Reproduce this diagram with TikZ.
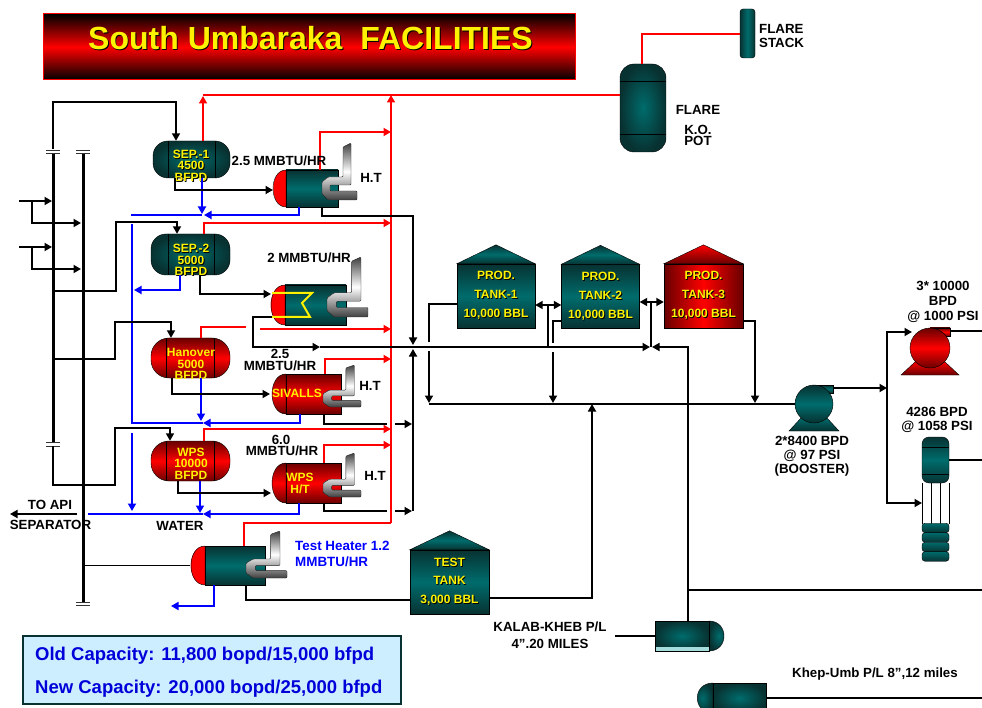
\documentclass[tikz,border=0pt]{standalone}
\usepackage{fontspec}
\setmainfont{Liberation Sans}
\usetikzlibrary{arrows.meta, calc}
\definecolor{tealmid}{RGB}{0,108,108}
\definecolor{tealdark}{RGB}{8,50,50}
\definecolor{reddark}{RGB}{105,0,0}
\definecolor{legendfill}{RGB}{204,238,255}
\definecolor{palestrip}{RGB}{165,220,220}
\newcommand{\shtxt}[1]{\leavevmode\rlap{\kern0.9pt\raisebox{-0.9pt}{\color{black}#1}}#1}
% heater: name, cap x, body left, body right, top, bottom, body style, cap style
\newcommand{\heater}[8]{
    \node[#7, minimum width={#4-#3}, minimum height={#6-#5}] (#1) at ({(#3+#4)/2},{(#5+#6)/2}) {};
    \draw[#8] (#3,#5) .. controls ({#3-1.33*(#3-#2)},#5) and ({#3-1.33*(#3-#2)},#6) .. (#3,#6) -- cycle;
}
% burner and stack: left, top, width, height
\newcommand{\burner}[4]{
    \begin{scope}[shift={(#1,#2)},xscale=#3/35,yscale=#4/57]
        \draw[stackgrey] (21,4) -- (29,0) -- (29,42) -- (8,42) -- (8,48) -- (35,48) -- (35,57) -- (6,57) -- (0,51) -- (0,39) -- (6,34) -- (21,34) -- cycle;
    \end{scope}
}
% pump: name, x, y, radius, base half width, colour style
\newcommand{\pump}[6]{
    \draw[#6] (#2,#3) ++(-#5,27) -- ++({2*#5},0) -- (#2,#3) -- cycle;
    \draw[#6] (#2,{#3-#4}) -- ({#2+#4},{#3-#4}) -- ({#2+#4},{#3-#4+8}) -- (#2,{#3-#4+8}) -- cycle;
    \node[circle, #6, minimum size={2*#4}] (#1) at (#2,#3) {};
    \coordinate (#1out) at ({#2+#4},{#3-#4+3});
}
\newcommand{\tankroof}[2]{
    \draw[#2] (#1.north west) -- ($(#1.north)+(0,-19)$) -- (#1.north east) -- cycle;
}
\begin{document}
\begin{tikzpicture}[
    x=1pt, y=-1pt,
    tealshade/.style={draw=black, thin, top color=tealdark, bottom color=tealdark, middle color=tealmid, inner sep=0pt},
    redshade/.style={draw=black, thin, top color=reddark, bottom color=reddark, middle color=red, inner sep=0pt},
    redcap/.style={draw=black, thin, fill=red},
    sepvessel/.style={draw=black, thin, inner color=tealmid, outer color=tealdark, rectangle, rounded corners=15pt, inner sep=0pt},
    redvessel/.style={redshade, rectangle, rounded corners=18pt},
    discstyle/.style={draw=black, thin, top color=tealmid, bottom color=tealdark, rectangle, rounded corners=3pt, inner sep=0pt},
    hbody/.style={rectangle},
    stackgrey/.style={draw=black!85, thin, rounded corners=1pt, top color=black!75, bottom color=black!75, middle color=white},
    prodtank/.style={tealshade, rectangle, minimum width=78, minimum height=64, align=center, text=yellow, font={\bfseries\fontsize{12}{19}\selectfont}},
    hottank/.style={draw=black, thin, left color=reddark, right color=reddark, middle color=red, rectangle, minimum width=79, minimum height=64, align=center, text=yellow, inner sep=0pt, font={\bfseries\fontsize{12}{19}\selectfont}},
    vtext/.style={text=yellow, align=center, inner sep=0pt, font={\bfseries\fontsize{12}{11.5}\selectfont}},
    tag/.style={text=black, align=center, inner sep=0pt, font={\bfseries\fontsize{13.3}{14}\selectfont}},
    bluetag/.style={tag, text=blue, align=left},
    legendtxt/.style={text=blue!85!black, inner sep=0pt, anchor=west, font={\bfseries\fontsize{18.5}{20}\selectfont}},
    pipe/.style={line width=1.7pt},
    bus/.style={line width=3pt},
    arrow/.style={-{Triangle[length=7.5pt,width=8pt]}, line width=1.7pt},
    twoway/.style={{Triangle[length=7.5pt,width=8pt]}-{Triangle[length=7.5pt,width=8pt]}, line width=1.7pt},
    flange/.style={line width=0.8pt, black!80}
]
    \useasboundingbox (0,0) rectangle (982,708);
    \clip (0,0) rectangle (982,708);

    % title and legend
    \node[draw=red, line width=1pt, top color=black, bottom color=black, middle color=red, minimum width=532, minimum height=66, inner sep=0pt] (titlebar) at (309,47) {};
    \node[text=yellow, inner sep=0pt, font={\bfseries\fontsize{32}{34}\selectfont}] (titletxt) at (310.5,39) {\shtxt{South Umbaraka\ \ FACILITIES}};
    \node[draw=tealdark, line width=1.5pt, fill=legendfill, minimum width=378, minimum height=68, inner sep=0pt] (legendbox) at (212,670) {};
    \node[legendtxt] (oldcap) at (35,656) {Old Capacity: 11,800 bopd/15,000 bfpd};
    \node[legendtxt] (newcap) at (35,689) {New Capacity: 20,000 bopd/25,000 bfpd};

    % separators
    \node[sepvessel, minimum width=77, minimum height=37] (sep1) at (191.5,159.5) {};
    \node[sepvessel, minimum width=79, minimum height=41] (sep2) at (190.5,254.5) {};
    \node[redvessel, minimum width=79, minimum height=40] (hano) at (190.5,358) {};
    \node[redvessel, minimum width=79, minimum height=40] (wpsv) at (190.5,461) {};
    \foreach \nm/\xa/\xb in {sep1/168/215, sep2/168/214, hano/166/214, wpsv/166/214} {
        \draw[thin] (\xa,0 |- \nm.north) -- (\xa,0 |- \nm.south);
        \draw[thin] (\xb,0 |- \nm.north) -- (\xb,0 |- \nm.south);
    }
    \node[vtext] (sep1txt) at (191,166) {\shtxt{SEP.-1}\\\shtxt{4500}\\\shtxt{BFPD}};
    \node[vtext] (sep2txt) at (191,260.5) {\shtxt{SEP.-2}\\\shtxt{5000}\\\shtxt{BFPD}};
    \node[vtext] (hanotxt) at (191,364) {Hanover\\5000\\BFPD};
    \node[vtext] (wpsvtxt) at (191,463.5) {WPS\\10000\\BFPD};

    % heaters
    \heater{ht1}{273}{286}{338}{170}{207}{tealshade, hbody}{redcap}
    \burner{322}{143}{35}{57}
    \heater{ht2}{271}{285}{346}{285}{325}{tealshade, hbody}{redcap}
    \burner{327}{257}{41}{60}
    \coordinate (ht2out) at (272,317);
    \draw[yellow, line width=2pt] (272,293) -- (312,293) -- (302,303) -- (310,317) -- (ht2out);
    \heater{ht3}{272}{286}{341}{374}{414}{redshade, hbody}{redshade}
    \burner{323}{365}{38}{42}
    \heater{ht4}{272}{286}{341}{463}{503}{redshade, hbody}{redshade}
    \burner{323}{453}{38}{44}
    \heater{ht5}{191}{205}{265}{546}{585}{tealshade, hbody}{redcap}
    \burner{246}{531}{41}{47}
    \node[vtext] (ht3txt) at (297,393) {SIVALLS};
    \node[vtext] (ht4txt) at (300,483.5) {WPS\\H/T};

    % tanks
    \node[prodtank] (tank1) at (496,296) {\rule{0pt}{2pt}\shtxt{PROD.}\\\shtxt{TANK-1}\\\shtxt{10,000 BBL}};
    \tankroof{tank1}{tealshade}
    \node[prodtank] (tank2) at (600.5,296.5) {\shtxt{PROD.}\\\shtxt{TANK-2}\\\shtxt{10,000 BBL}};
    \tankroof{tank2}{tealshade}
    \node[hottank] (tank3) at (703.5,296) {\shtxt{PROD.}\\\shtxt{TANK-3}\\\shtxt{10,000 BBL}};
    \draw[draw=black, thin, top color=red, bottom color=reddark] (tank3.north west) -- ($(tank3.north)+(0,-19)$) -- (tank3.north east) -- cycle;
    \node[prodtank, font={\bfseries\fontsize{12}{18.5}\selectfont}, minimum width=79] (tank4) at (449.5,582) {\shtxt{TEST}\\\shtxt{TANK}\\\shtxt{3,000 BBL}};
    \tankroof{tank4}{tealshade}

    % flare system
    \node[draw=black, thin, left color=tealdark, right color=tealdark, middle color=tealmid, rectangle, rounded corners=3pt, minimum width=15, minimum height=49, inner sep=0pt] (stack) at (747.5,33.5) {};
    \node[sepvessel, rounded corners=14pt, minimum width=46, minimum height=88] (kopot) at (643,108) {};
    \draw[thin] (kopot.west |- 0,81) -- (kopot.east |- 0,81);
    \draw[thin] (kopot.west |- 0,134) -- (kopot.east |- 0,134);
    \coordinate (redtop) at (391,95);
    \coordinate (redbot) at (391,523);
    \draw[pipe, red] (stack.west |- 0,34) -| (642,0 |- kopot.north);
    \draw[pipe, red] (kopot.west |- 0,95) -- (203,95);

    % pumps
    \pump{booster}{814}{404}{19}{25}{tealshade}
    \pump{hppump}{930}{348}{20}{29}{redshade}
    \node[tealshade, rectangle, rounded corners=7pt, minimum width=27, minimum height=46] (plunger) at (935.5,460) {};
    \draw[thin] (plunger.west |- 0,447) -- (plunger.east |- 0,447);
    \draw[thin] (plunger.west |- 0,474) -- (plunger.east |- 0,474);
    \foreach \rodx in {922,931,940,949}
        \draw[thin] (\rodx,0 |- plunger.south) -- (\rodx,524);
    \foreach \discy in {528,537.5,547,556.5}
        \node[discstyle, minimum width=27, minimum height=9.5] (disc\discy) at (935.5,\discy) {};

    % pipeline launchers
    \draw[draw=black, thin, inner color=tealmid, outer color=tealdark] (709,621) .. controls (729,621) and (729,651) .. (709,651) -- cycle;
    \node[sepvessel, rounded corners=0pt, minimum width=54, minimum height=30] (kalab) at (682,636) {};
    \fill[palestrip] (655.5,647) rectangle (708.5,650.5);
    \draw[draw=black, thin, inner color=tealmid, outer color=tealdark] (713,683) .. controls (692,683) and (692,713) .. (713,713) -- cycle;
    \node[sepvessel, rounded corners=0pt, minimum width=53, minimum height=30] (khep) at (739.5,698) {};

    % gas to flare
    \draw[arrow, red] (203,0 |- sep1.north) -- (203,96);
    \draw[arrow, red] (redbot) -- (redtop);
    \draw[pipe, red] (redbot) -| (244,0 |- ht5.north);
    \draw[arrow, red] (320,0 |- ht1.north) |- (redtop |- 0,132);
    \draw[arrow, red] (204,0 |- sep2.north) |- (redtop |- 0,223);
    \draw[pipe, red] (201,0 |- hano.north) |- (246,327);
    \draw[arrow, red] (260,329) -- (redtop |- 0,329);
    \draw[arrow, red] (325,0 |- ht3.north) |- (redtop |- 0,359);
    \draw[arrow, red] (204,0 |- wpsv.north) |- (redtop |- 0,429);
    \draw[arrow, red] (324,0 |- ht4.north) |- (redtop |- 0,445);

    % water
    \draw[pipe, blue] (202,215) -- (132,215) -- (132,216);
    \draw[arrow, blue] (202,0 |- sep1.south) -- (202,214);
    \draw[arrow, blue] (299,0 |- ht1.south) |- (204,215);
    \draw[arrow, blue] (180,0 |- sep2.south) |- (134,290);
    \draw[pipe, blue] (132,224) -- (132,423) -- (203,423);
    \draw[arrow, blue] (132,433) -- (132,511);
    \draw[arrow, blue] (201,0 |- hano.south) -- (201,421);
    \draw[arrow, blue] (300,0 |- ht3.south) |- (203,423);
    \draw[pipe, blue] (88,514) -- (203,514);
    \draw[arrow, blue] (200,0 |- wpsv.south) -- (200,513);
    \draw[arrow, blue] (299,0 |- ht4.south) |- (203,514);
    \draw[arrow, blue] (214,0 |- ht5.south) |- (171,606);

    % inlet headers
    \coordinate (busa) at (53,153);
    \coordinate (busb) at (83,154);
    \coordinate (busaend) at (53,442);
    \coordinate (busbend) at (83,602);
    \draw[bus] (busa) -- (busaend);
    \draw[bus] (busb) -- (busbend);
    \foreach \fx/\fy in {53/150, 83/150, 53/442.5, 83/602} {
        \draw[flange] (\fx-7,\fy) -- (\fx+7,\fy);
        \draw[flange] (\fx-7,\fy+3.5) -- (\fx+7,\fy+3.5);
    }
    \draw[arrow, line width=2.2pt] (19,201) -- (52,201);
    \draw[arrow, line width=2.2pt] (32,201) |- (81,223);
    \draw[arrow, line width=2.2pt] (19,247) -- (52,247);
    \draw[arrow, line width=2.2pt] (32,247) |- (81,269);

    % feeds
    \draw[arrow] (53,149) |- (176,102) -- (176,0 |- sep1.north);
    \draw[arrow] (53,291) -| (116,222) -| (177,0 |- sep2.north);
    \draw[arrow] (53,359) -| (115,322) -| (171,0 |- hano.north);
    \draw[arrow] (53,446) |- (115,485) |- (170,428) -- (170,0 |- wpsv.north);
    \draw[pipe] (busb |- ht5.west) -- (ht5.west -| 190,0);

    % oil to heaters and tanks
    \draw[arrow] (175,0 |- sep1.south) |- (273,190);
    \draw[arrow] (200,0 |- sep2.south) |- (271,294);
    \draw[arrow] (172,0 |- hano.south) |- (270,394);
    \draw[arrow] (178,0 |- wpsv.south) |- (271,493);
    \draw[arrow] (322,0 |- ht1.south) |- (413,216) -- (413,345);
    \draw[arrow] (ht2out) -| (253,347) -- (320,347);
    \draw[arrow] (320,347) -- (650,347);
    \draw[pipe] (324,0 |- ht3.south) |- (387,424);
    \draw[arrow] (395,424) -- (412,424);
    \draw[pipe] (324,0 |- ht4.south) |- (387,511);
    \draw[arrow] (395,511) -- (412,511);
    \draw[arrow] (413,511) -- (413,349);
    \draw[pipe] (246,0 |- ht5.south) |- (tank4.west |- 0,600);
    \draw[arrow] (tank4.east |- 0,598) -| (592,404);

    % tank connections
    \draw[twoway] (tank1.east |- 0,305) -- (tank2.west |- 0,305);
    \draw[pipe] (548,305) -- (548,347);
    \draw[twoway] (tank2.east |- 0,302) -- (tank3.west |- 0,302);
    \draw[pipe] (651,302) -- (651,347);
    \draw[pipe] (tank1.west |- 0,304) -| (429,342);
    \draw[arrow] (429,351) -- (429,403);
    \draw[pipe] (tank2.west |- 0,321) -| (553,343);
    \draw[arrow] (553,352) -- (553,403);
    \draw[arrow] (tank3.east |- 0,321) -| (755,403);
    \draw[pipe] (429,404) -- (booster.west |- 0,404);

    % export pumps and pipelines
    \coordinate (rima) at (982,332);
    \coordinate (rimb) at (982,460);
    \coordinate (rimc) at (982,590);
    \coordinate (rimd) at (982,698);
    \coordinate (kalabin) at (615,636);
    \draw[arrow] (boosterout) -- (887,0 |- boosterout);
    \draw[arrow] (887,386) |- (912,332);
    \draw[arrow] (887,386) |- (922,503);
    \draw[pipe] (hppumpout) -- (rima |- hppumpout);
    \draw[pipe] (plunger.east |- rimb) -- (rimb);
    \draw[pipe] (688,0 |- kalab.north) -- (688,590) -- (rimc);
    \draw[arrow] (688,590) -- (688,347) -- (652,347);
    \draw[pipe] (kalabin) -- (kalab.west);
    \draw[pipe] (khep.east) -- (rimd);

    % labels
    \node[tag] (toapi) at (50,505) {TO API};
    \node[tag] (sepname) at (50.5,525) {SEPARATOR};
    \coordinate (apiend) at (10,514);
    \draw[arrow, line width=2.2pt] (77,514) -- (apiend);
    \node[tag] (watertag) at (180,526) {WATER};
    \node[tag] (duty1) at (279,161) {2.5 MMBTU/HR};
    \node[tag] (duty2) at (309,258) {2 MMBTU/HR};
    \node[tag] (duty3a) at (280,354) {2.5};
    \node[tag] (duty3b) at (280,366) {MMBTU/HR};
    \node[tag] (duty4a) at (281,439.5) {6.0};
    \node[tag] (duty4b) at (282,451) {MMBTU/HR};
    \node[tag] (htlab1) at (371,178) {H.T};
    \node[tag] (htlab3) at (370,386) {H.T};
    \node[tag] (htlab4) at (375,476) {H.T};
    \node[bluetag, anchor=north west, font={\bfseries\fontsize{13.4}{16}\selectfont}] (testlab) at (295,541) {Test Heater 1.2\\MMBTU/HR};
    \node[tag] (flarelab) at (698,110) {FLARE};
    \node[tag, font={\bfseries\fontsize{13.3}{11.5}\selectfont}] (kolab) at (698,135.5) {K.O.\\POT};
    \node[tag, align=left, anchor=west] (stacklab) at (759,36) {FLARE\\STACK};
    \node[tag] (pumplab1) at (943,302) {3* 10000\\[1.2pt]BPD\\[1.2pt]@ 1000 PSI};
    \node[tag] (pumplab2) at (937,420) {4286 BPD\\[0.5pt]@ 1058 PSI};
    \node[tag] (pumplab3) at (812,456) {2*8400 BPD\\@ 97 PSI\\(BOOSTER)};
    \node[tag, font={\bfseries\fontsize{13.3}{17}\selectfont}] (kalablab) at (550,635.5) {KALAB-KHEB P/L\\4".20 MILES};
    \node[tag] (kheplab) at (875,674) {Khep-Umb P/L 8",12 miles};
\end{tikzpicture}
\end{document}
